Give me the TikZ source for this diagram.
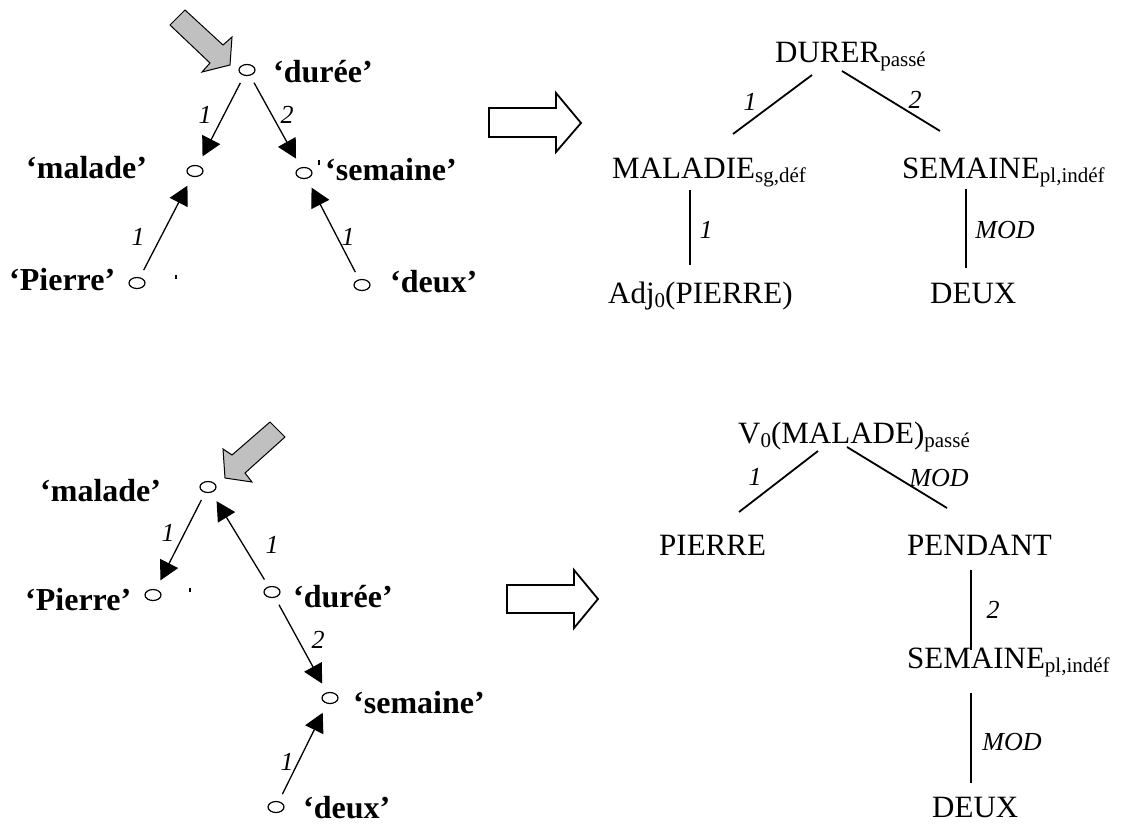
\documentclass[tikz,border=0pt]{standalone}
\usepackage{fontspec}
\setmainfont{Liberation Serif}
\usetikzlibrary{arrows.meta,shapes.geometric}
\definecolor{arrgray}{RGB}{192,192,192}
\newcommand\lsub[1]{\raisebox{-4.5pt}{\fontsize{21}{21}\selectfont #1}}
\begin{document}
\begin{tikzpicture}[x=1pt,y=-1pt,
  vtx/.style={draw,ellipse,minimum width=16pt,minimum height=11pt,inner sep=0pt,line width=1.2pt},
  blbl/.style={font=\fontsize{32}{32}\selectfont\bfseries,anchor=base west,inner sep=0pt},
  rtxt/.style={font=\fontsize{31}{31}\selectfont,anchor=base west,inner sep=0pt},
  elbl/.style={font=\fontsize{26}{26}\selectfont\itshape,inner sep=0pt},
  arr/.style={line width=1.3pt,-{Triangle[length=19pt,width=20pt]},shorten <=8pt,shorten >=10pt},
  tline/.style={line width=1.8pt},
  grayarrow/.style={draw=black,line width=1pt,fill=arrgray,line join=miter},
  whitearrow/.style={draw=black,line width=1.8pt,fill=white,line join=miter},
  stray/.style={line width=1.3pt}]
\useasboundingbox (0,0) rectangle (1123,823);

% ---------- top left tree ----------
\node[vtx] (d1) at (247,70) {};
\node[vtx] (m1) at (195,171) {};
\node[vtx] (s1) at (304,173) {};
\node[vtx] (p1) at (137,283) {};
\node[vtx] (x1) at (362,285) {};
\node[blbl] (ld1) at (273,82) {‘durée’};
\node[blbl] (lm1) at (26,178) {‘malade’};
\node[blbl] (ls1) at (325,180) {‘semaine’};
\node[blbl] (lp1) at (9,290) {‘Pierre’};
\node[blbl] (lx1) at (390,292) {‘deux’};
\draw[arr] (d1) -- (m1);
\draw[arr] (d1) -- (s1);
\draw[arr] (p1) -- (m1);
\draw[arr] (x1) -- (s1);
\node[elbl] (e1) at (205,115) {1};
\node[elbl] (e2) at (287,115) {2};
\node[elbl] (e3) at (138,237) {1};
\node[elbl] (e4) at (348,237) {1};
\draw[stray] (319,160) -- (319,165);
\draw[stray] (176,275) -- (176,279);
\draw[grayarrow] (185,10) -- (223,45) -- (232,37) -- (230,65) -- (202,72) -- (210,63) -- (170,25) -- cycle;

% ---------- bottom left tree ----------
\node[vtx] (m2) at (208,487) {};
\node[vtx] (p2) at (153,595) {};
\node[vtx] (d2) at (272,592) {};
\node[vtx] (s2) at (330,698) {};
\node[vtx] (x2) at (276,807) {};
\node[blbl] (lm2) at (40,501) {‘malade’};
\node[blbl] (lp2) at (25,610) {‘Pierre’};
\node[blbl] (ld2) at (293,607) {‘durée’};
\node[blbl] (ls2) at (353,713) {‘semaine’};
\node[blbl] (lx2) at (303,818) {‘deux’};
\draw[arr] (m2) -- (p2);
\draw[arr] (d2) -- (m2);
\draw[arr] (d2) -- (s2);
\draw[arr] (x2) -- (s2);
\node[elbl] (f1) at (168,533) {1};
\node[elbl] (f2) at (272,545) {1};
\node[elbl] (f3) at (318,640) {2};
\node[elbl] (f4) at (287,762) {1};
\draw[stray] (190,588) -- (190,592);
\draw[grayarrow] (270,422) -- (285,437) -- (245,473) -- (252,482) -- (225,478) -- (223,449) -- (232,455) -- cycle;

% ---------- block arrows ----------
\draw[whitearrow] (489,108) -- (556,108) -- (556,93) -- (581,123) -- (556,152) -- (556,137) -- (489,137) -- cycle;
\draw[whitearrow] (507,585) -- (574,585) -- (574,570) -- (598,599) -- (574,628) -- (574,613) -- (507,613) -- cycle;

% ---------- top right tree ----------
\node[rtxt] (dur) at (775,62) {DURER\lsub{passé}};
\node[rtxt] (mal) at (612,178) {MALADIE\lsub{sg,déf}};
\node[rtxt] (sem) at (902,178) {SEMAINE\lsub{pl,indéf}};
\node[rtxt] (adj) at (608,303) {Adj\lsub{0}(PIERRE)};
\node[rtxt] (deu) at (930,303) {DEUX};
\draw[tline] ([shift={(37,13)}]dur.base west) -- ([shift={(121,-44)}]mal.base west);
\draw[tline] ([shift={(67,9)}]dur.base west) -- ([shift={(38,-47)}]sem.base west);
\draw[tline] ([shift={(78,12)}]mal.base west) -- ([shift={(82,-38)}]adj.base west);
\draw[tline] ([shift={(64,11)}]sem.base west) -- ([shift={(36,-35)}]deu.base west);
\node[elbl] (g1) at (750,102) {1};
\node[elbl] (g2) at (915,100) {2};
\node[elbl] (g3) at (706,230) {1};
\node[elbl] (g4) at (1005,230) {MOD};

% ---------- bottom right tree ----------
\node[rtxt] (vma) at (738,443) {V\lsub{0}(MALADE)\lsub{passé}};
\node[rtxt] (pie) at (659,555) {PIERRE};
\node[rtxt] (pen) at (907,555) {PENDANT};
\node[rtxt] (sem2) at (907,668) {SEMAINE\lsub{pl,indéf}};
\node[rtxt] (deu2) at (932,817) {DEUX};
\draw[tline] ([shift={(80,8)}]vma.base west) -- ([shift={(80,-43)}]pie.base west);
\draw[tline] ([shift={(109,4)}]vma.base west) -- ([shift={(40,-47)}]pen.base west);
\draw[tline] ([shift={(64,15)}]pen.base west) -- ([shift={(64,-18)}]sem2.base west);
\draw[tline] ([shift={(64,25)}]sem2.base west) -- ([shift={(39,-34)}]deu2.base west);
\node[elbl] (h1) at (755,477) {1};
\node[elbl] (h2) at (939,478) {MOD};
\node[elbl] (h3) at (993,610) {2};
\node[elbl] (h4) at (1012,742) {MOD};
\end{tikzpicture}
\end{document}
